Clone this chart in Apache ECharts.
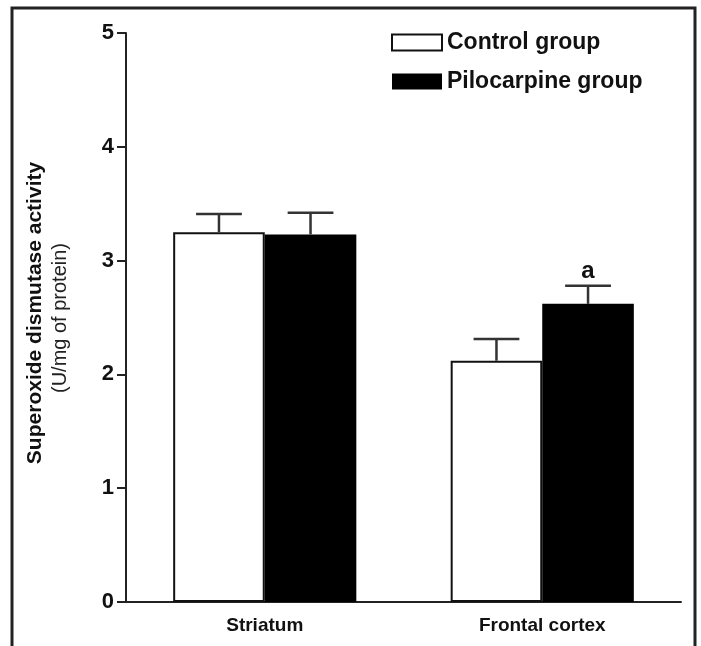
<!DOCTYPE html>
<html>
<head>
<meta charset="utf-8">
<script src="https://cdn.jsdelivr.net/npm/echarts@6/dist/echarts.min.js"></script>
<style>html,body{margin:0;padding:0;background:#fff}#c{width:701px;height:646px}</style>
</head>
<body>
<div id="c"></div>
<script>
const categories = ['Striatum', 'Frontal cortex'];
const seriesNames = ['Control group', 'Pilocarpine group'];
const controlValues = [3.25, 2.12];
const controlErrors = [0.16, 0.19];
const pilocarpineValues = [3.23, 2.62];
const pilocarpineErrors = [0.19, 0.16];
const pilocarpineMarks = ['', 'a'];
const yTicks = [0, 1, 2, 3, 4, 5];

const FONT = '"Liberation Sans", Arial, sans-serif';
const BAR_FRAC = 0.33;

function errorSeries(values, errors, marks, side) {
  return {
    type: 'custom',
    silent: true,
    z: 5,
    data: values.map((v, i) => [i, v, errors[i]]),
    renderItem: function (params, api) {
      const i = api.value(0);
      const v = api.value(1);
      const e = api.value(2);
      const bandW = api.size([1, 0])[0];
      const bw = bandW * BAR_FRAC;
      const base = api.coord([i, v]);
      const top = api.coord([i, v + e]);
      const x = base[0] + side * bw / 2;
      const capHalf = bw / 4;
      const style = { stroke: '#333', lineWidth: 2.5 };
      const children = [
        { type: 'line', shape: { x1: x, y1: base[1], x2: x, y2: top[1] }, style: style },
        { type: 'line', shape: { x1: x - capHalf, y1: top[1], x2: x + capHalf, y2: top[1] }, style: style }
      ];
      const m = marks ? marks[params.dataIndex] : '';
      if (m) {
        children.push({
          type: 'text',
          style: { text: m, x: x, y: top[1] - 2, align: 'center', verticalAlign: 'bottom',
                   font: 'bold 24px ' + FONT, fill: '#111' }
        });
      }
      return { type: 'group', children: children };
    }
  };
}

const chart = echarts.init(document.getElementById('c'), null, { renderer: 'canvas' });
chart.setOption({
  backgroundColor: '#fff',
  animation: false,
  grid: { left: 126, right: 20, top: 33, bottom: 44 },
  legend: {
    orient: 'vertical',
    left: 386, top: 26,
    itemWidth: 50, itemHeight: 16, itemGap: 16,
    data: seriesNames.map(n => ({ name: n, icon: 'rect' })),
    textStyle: { fontFamily: FONT, fontWeight: 'bold', fontSize: 23, color: '#111' }
  },
  xAxis: {
    type: 'category',
    data: categories,
    axisLine: { lineStyle: { color: '#222', width: 2 } },
    axisTick: { show: false },
    axisLabel: { fontFamily: FONT, fontWeight: 'bold', fontSize: 19, color: '#111', margin: 14 }
  },
  yAxis: {
    type: 'value',
    min: yTicks[0], max: yTicks[yTicks.length - 1], interval: 1,
    axisLine: { show: true, lineStyle: { color: '#222', width: 2 } },
    axisTick: { show: true, inside: false, length: 9, lineStyle: { color: '#222', width: 2 } },
    splitLine: { show: false },
    axisLabel: { fontFamily: FONT, fontWeight: 'bold', fontSize: 22, color: '#111', margin: 12 }
  },
  graphic: [
    { type: 'rect', shape: { x: 12, y: 8, width: 683, height: 700 }, style: { fill: 'none', stroke: '#222', lineWidth: 3 }, silent: true, z: 100 },
    { type: 'text', x: 35, y: 313, rotation: Math.PI / 2, style: { text: 'Superoxide dismutase activity', font: 'bold 21px ' + FONT, fill: '#111', align: 'center', verticalAlign: 'middle' } },
    { type: 'text', x: 60, y: 318, rotation: Math.PI / 2, style: { text: '(U/mg of protein)', font: '20px ' + FONT, fill: '#222', align: 'center', verticalAlign: 'middle' } }
  ],
  series: [
    {
      name: seriesNames[0], type: 'bar', data: controlValues,
      barWidth: (BAR_FRAC * 100) + '%', barGap: '0%',
      itemStyle: { color: '#fff', borderColor: '#111', borderWidth: 2 }
    },
    {
      name: seriesNames[1], type: 'bar', data: pilocarpineValues,
      barWidth: (BAR_FRAC * 100) + '%', barGap: '0%',
      itemStyle: { color: '#000', borderColor: '#000', borderWidth: 0 }
    },
    errorSeries(controlValues, controlErrors, null, -1),
    errorSeries(pilocarpineValues, pilocarpineErrors, pilocarpineMarks, 1)
  ]
});
</script>
</body>
</html>
